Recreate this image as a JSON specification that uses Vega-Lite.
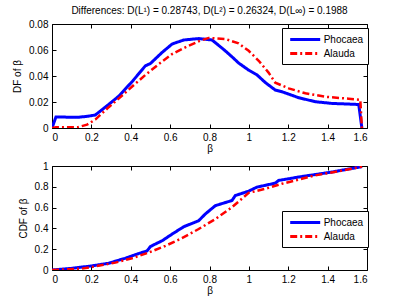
{
  "$schema": "https://vega.github.io/schema/vega-lite/v6.json",
  "padding": {"left": 12, "top": 5, "right": 5, "bottom": 0},
  "spacing": 6,
  "config": {
    "font": "Liberation Sans",
    "view": {"stroke": "black", "strokeWidth": 1},
    "axis": {"domain": false, "grid": false, "tickColor": "black", "tickSize": -4, "labelPadding": 8, "labelFontSize": 10, "labelColor": "black", "titleFontSize": 10, "titleFontWeight": "normal", "titleColor": "black", "labelFont": "Liberation Sans", "titleFont": "Liberation Sans", "format": "~g"},
    "legend": {"orient": "none", "title": null, "strokeColor": "black", "fillColor": "white", "padding": 4, "symbolType": "M-2.5,0H2.5", "symbolSize": 144, "symbolStrokeWidth": 3, "symbolOffset": 11.7, "labelOffset": 11, "labelFontSize": 10, "labelColor": "black", "rowPadding": 0, "labelFont": "Liberation Sans"},
    "title": {"fontSize": 10, "fontWeight": "normal", "font": "Liberation Sans", "color": "black"}
  },
  "vconcat": [
    {
      "width": 315,
      "height": 104,
      "title": {"text": "Differences: D(L¹) = 0.28743, D(L²) = 0.26324, D(L∞) = 0.1988", "anchor": "middle", "offset": 3},
      "data": {"values": [
        {"s": "Phocaea", "x": 0, "y": 0},
        {"s": "Phocaea", "x": 0.02, "y": 0.0085},
        {"s": "Phocaea", "x": 0.13, "y": 0.0082},
        {"s": "Phocaea", "x": 0.18, "y": 0.009},
        {"s": "Phocaea", "x": 0.22, "y": 0.0100},
        {"s": "Phocaea", "x": 0.288, "y": 0.0181},
        {"s": "Phocaea", "x": 0.34, "y": 0.0246},
        {"s": "Phocaea", "x": 0.41, "y": 0.0362},
        {"s": "Phocaea", "x": 0.474, "y": 0.0478},
        {"s": "Phocaea", "x": 0.5, "y": 0.0496},
        {"s": "Phocaea", "x": 0.559, "y": 0.0581},
        {"s": "Phocaea", "x": 0.61, "y": 0.0646},
        {"s": "Phocaea", "x": 0.669, "y": 0.0677},
        {"s": "Phocaea", "x": 0.745, "y": 0.0688},
        {"s": "Phocaea", "x": 0.813, "y": 0.0677},
        {"s": "Phocaea", "x": 0.88, "y": 0.0594},
        {"s": "Phocaea", "x": 0.914, "y": 0.0548},
        {"s": "Phocaea", "x": 0.948, "y": 0.05},
        {"s": "Phocaea", "x": 0.999, "y": 0.0445},
        {"s": "Phocaea", "x": 1.041, "y": 0.0409},
        {"s": "Phocaea", "x": 1.084, "y": 0.0349},
        {"s": "Phocaea", "x": 1.134, "y": 0.0292},
        {"s": "Phocaea", "x": 1.168, "y": 0.0279},
        {"s": "Phocaea", "x": 1.253, "y": 0.0233},
        {"s": "Phocaea", "x": 1.338, "y": 0.0202},
        {"s": "Phocaea", "x": 1.422, "y": 0.0189},
        {"s": "Phocaea", "x": 1.558, "y": 0.0181},
        {"s": "Phocaea", "x": 1.574, "y": 0},
        {"s": "Alauda", "x": 0, "y": 0},
        {"s": "Alauda", "x": 0.02, "y": 0.0005},
        {"s": "Alauda", "x": 0.13, "y": 0.0005},
        {"s": "Alauda", "x": 0.178, "y": 0.0026},
        {"s": "Alauda", "x": 0.22, "y": 0.0065},
        {"s": "Alauda", "x": 0.288, "y": 0.016},
        {"s": "Alauda", "x": 0.34, "y": 0.0228},
        {"s": "Alauda", "x": 0.41, "y": 0.0323},
        {"s": "Alauda", "x": 0.474, "y": 0.0408},
        {"s": "Alauda", "x": 0.542, "y": 0.0491},
        {"s": "Alauda", "x": 0.61, "y": 0.0569},
        {"s": "Alauda", "x": 0.677, "y": 0.062},
        {"s": "Alauda", "x": 0.745, "y": 0.0667},
        {"s": "Alauda", "x": 0.796, "y": 0.0693},
        {"s": "Alauda", "x": 0.88, "y": 0.0685},
        {"s": "Alauda", "x": 0.948, "y": 0.0651},
        {"s": "Alauda", "x": 0.999, "y": 0.0594},
        {"s": "Alauda", "x": 1.05, "y": 0.0517},
        {"s": "Alauda", "x": 1.1, "y": 0.0426},
        {"s": "Alauda", "x": 1.134, "y": 0.0349},
        {"s": "Alauda", "x": 1.202, "y": 0.0305},
        {"s": "Alauda", "x": 1.287, "y": 0.0267},
        {"s": "Alauda", "x": 1.389, "y": 0.024},
        {"s": "Alauda", "x": 1.507, "y": 0.0225},
        {"s": "Alauda", "x": 1.566, "y": 0.0217},
        {"s": "Alauda", "x": 1.574, "y": 0}
      ]},
      "layer": [
        {
          "encoding": {
            "x": {"field": "x", "type": "quantitative", "scale": {"domain": [0, 1.6], "nice": false, "zero": false}, "axis": {"title": "β", "values": [0,0.2,0.4,0.6,0.8,1,1.2,1.4,1.6], "titlePadding": 1}},
            "y": {"field": "y", "type": "quantitative", "scale": {"domain": [0, 0.08], "nice": false}, "axis": {"title": "DF of β", "values": [0,0.02,0.04,0.06,0.08], "titlePadding": 6}},
            "color": {"field": "s", "type": "nominal", "scale": {"domain": ["Phocaea", "Alauda"], "range": ["#0000ff", "#ff0000"]}, "legend": {"legendX": 230, "legendY": 4}},
            "strokeDash": {"field": "s", "type": "nominal", "scale": {"domain": ["Phocaea", "Alauda"], "range": [[1, 0], [7, 3, 2, 3]]}, "legend": {"legendX": 230, "legendY": 4}}
          },
          "layer": [
            {"transform": [{"filter": "datum.s === 'Phocaea'"}], "mark": {"type": "line", "strokeWidth": 3, "clip": true}},
            {"transform": [{"filter": "datum.s === 'Alauda'"}], "mark": {"type": "line", "strokeWidth": 2.5, "clip": true}}
          ]
        },
        {
          "mark": {"type": "point", "opacity": 0},
          "encoding": {
            "x": {"field": "x", "type": "quantitative", "scale": {"domain": [0, 1.6], "nice": false, "zero": false}, "axis": {"orient": "top", "labels": false, "title": null, "values": [0,0.2,0.4,0.6,0.8,1,1.2,1.4,1.6]}},
            "y": {"field": "y", "type": "quantitative", "scale": {"domain": [0, 0.08], "nice": false}, "axis": {"orient": "right", "labels": false, "title": null, "values": [0,0.02,0.04,0.06,0.08]}}
          }
        }
      ],
      "resolve": {"axis": {"x": "independent", "y": "independent"}}
    },
    {
      "width": 315,
      "height": 104,
      "data": {"values": [
        {"s": "Phocaea", "x": 0, "y": 0},
        {"s": "Phocaea", "x": 0.1, "y": 0.016},
        {"s": "Phocaea", "x": 0.2, "y": 0.039},
        {"s": "Phocaea", "x": 0.288, "y": 0.065},
        {"s": "Phocaea", "x": 0.372, "y": 0.113},
        {"s": "Phocaea", "x": 0.44, "y": 0.158},
        {"s": "Phocaea", "x": 0.483, "y": 0.184},
        {"s": "Phocaea", "x": 0.5, "y": 0.226},
        {"s": "Phocaea", "x": 0.559, "y": 0.281},
        {"s": "Phocaea", "x": 0.61, "y": 0.345},
        {"s": "Phocaea", "x": 0.669, "y": 0.416},
        {"s": "Phocaea", "x": 0.745, "y": 0.474},
        {"s": "Phocaea", "x": 0.779, "y": 0.539},
        {"s": "Phocaea", "x": 0.83, "y": 0.619},
        {"s": "Phocaea", "x": 0.914, "y": 0.668},
        {"s": "Phocaea", "x": 0.931, "y": 0.716},
        {"s": "Phocaea", "x": 0.999, "y": 0.758},
        {"s": "Phocaea", "x": 1.041, "y": 0.797},
        {"s": "Phocaea", "x": 1.134, "y": 0.835},
        {"s": "Phocaea", "x": 1.151, "y": 0.861},
        {"s": "Phocaea", "x": 1.253, "y": 0.894},
        {"s": "Phocaea", "x": 1.422, "y": 0.942},
        {"s": "Phocaea", "x": 1.575, "y": 0.994},
        {"s": "Alauda", "x": 0, "y": 0},
        {"s": "Alauda", "x": 0.152, "y": 0.013},
        {"s": "Alauda", "x": 0.22, "y": 0.035},
        {"s": "Alauda", "x": 0.322, "y": 0.071},
        {"s": "Alauda", "x": 0.406, "y": 0.113},
        {"s": "Alauda", "x": 0.491, "y": 0.168},
        {"s": "Alauda", "x": 0.576, "y": 0.232},
        {"s": "Alauda", "x": 0.66, "y": 0.306},
        {"s": "Alauda", "x": 0.745, "y": 0.394},
        {"s": "Alauda", "x": 0.83, "y": 0.49},
        {"s": "Alauda", "x": 0.914, "y": 0.603},
        {"s": "Alauda", "x": 0.999, "y": 0.742},
        {"s": "Alauda", "x": 1.084, "y": 0.781},
        {"s": "Alauda", "x": 1.168, "y": 0.829},
        {"s": "Alauda", "x": 1.338, "y": 0.91},
        {"s": "Alauda", "x": 1.507, "y": 0.968},
        {"s": "Alauda", "x": 1.575, "y": 0.994}
      ]},
      "layer": [
        {
          "encoding": {
            "x": {"field": "x", "type": "quantitative", "scale": {"domain": [0, 1.6], "nice": false, "zero": false}, "axis": {"title": "β", "values": [0,0.2,0.4,0.6,0.8,1,1.2,1.4,1.6], "titlePadding": 1}},
            "y": {"field": "y", "type": "quantitative", "scale": {"domain": [0, 1], "nice": false}, "axis": {"title": "CDF of β", "values": [0,0.2,0.4,0.6,0.8,1], "titlePadding": 6}},
            "color": {"field": "s", "type": "nominal", "scale": {"domain": ["Phocaea", "Alauda"], "range": ["#0000ff", "#ff0000"]}, "legend": {"legendX": 230, "legendY": 45}},
            "strokeDash": {"field": "s", "type": "nominal", "scale": {"domain": ["Phocaea", "Alauda"], "range": [[1, 0], [7, 3, 2, 3]]}, "legend": {"legendX": 230, "legendY": 45}}
          },
          "layer": [
            {"transform": [{"filter": "datum.s === 'Phocaea'"}], "mark": {"type": "line", "strokeWidth": 3, "clip": true}},
            {"transform": [{"filter": "datum.s === 'Alauda'"}], "mark": {"type": "line", "strokeWidth": 2.5, "clip": true}}
          ]
        },
        {
          "mark": {"type": "point", "opacity": 0},
          "encoding": {
            "x": {"field": "x", "type": "quantitative", "scale": {"domain": [0, 1.6], "nice": false, "zero": false}, "axis": {"orient": "top", "labels": false, "title": null, "values": [0,0.2,0.4,0.6,0.8,1,1.2,1.4,1.6]}},
            "y": {"field": "y", "type": "quantitative", "scale": {"domain": [0, 1], "nice": false}, "axis": {"orient": "right", "labels": false, "title": null, "values": [0,0.2,0.4,0.6,0.8,1]}}
          }
        }
      ],
      "resolve": {"axis": {"x": "independent", "y": "independent"}}
    }
  ],
  "resolve": {"scale": {"color": "independent", "strokeDash": "independent"}}
}
